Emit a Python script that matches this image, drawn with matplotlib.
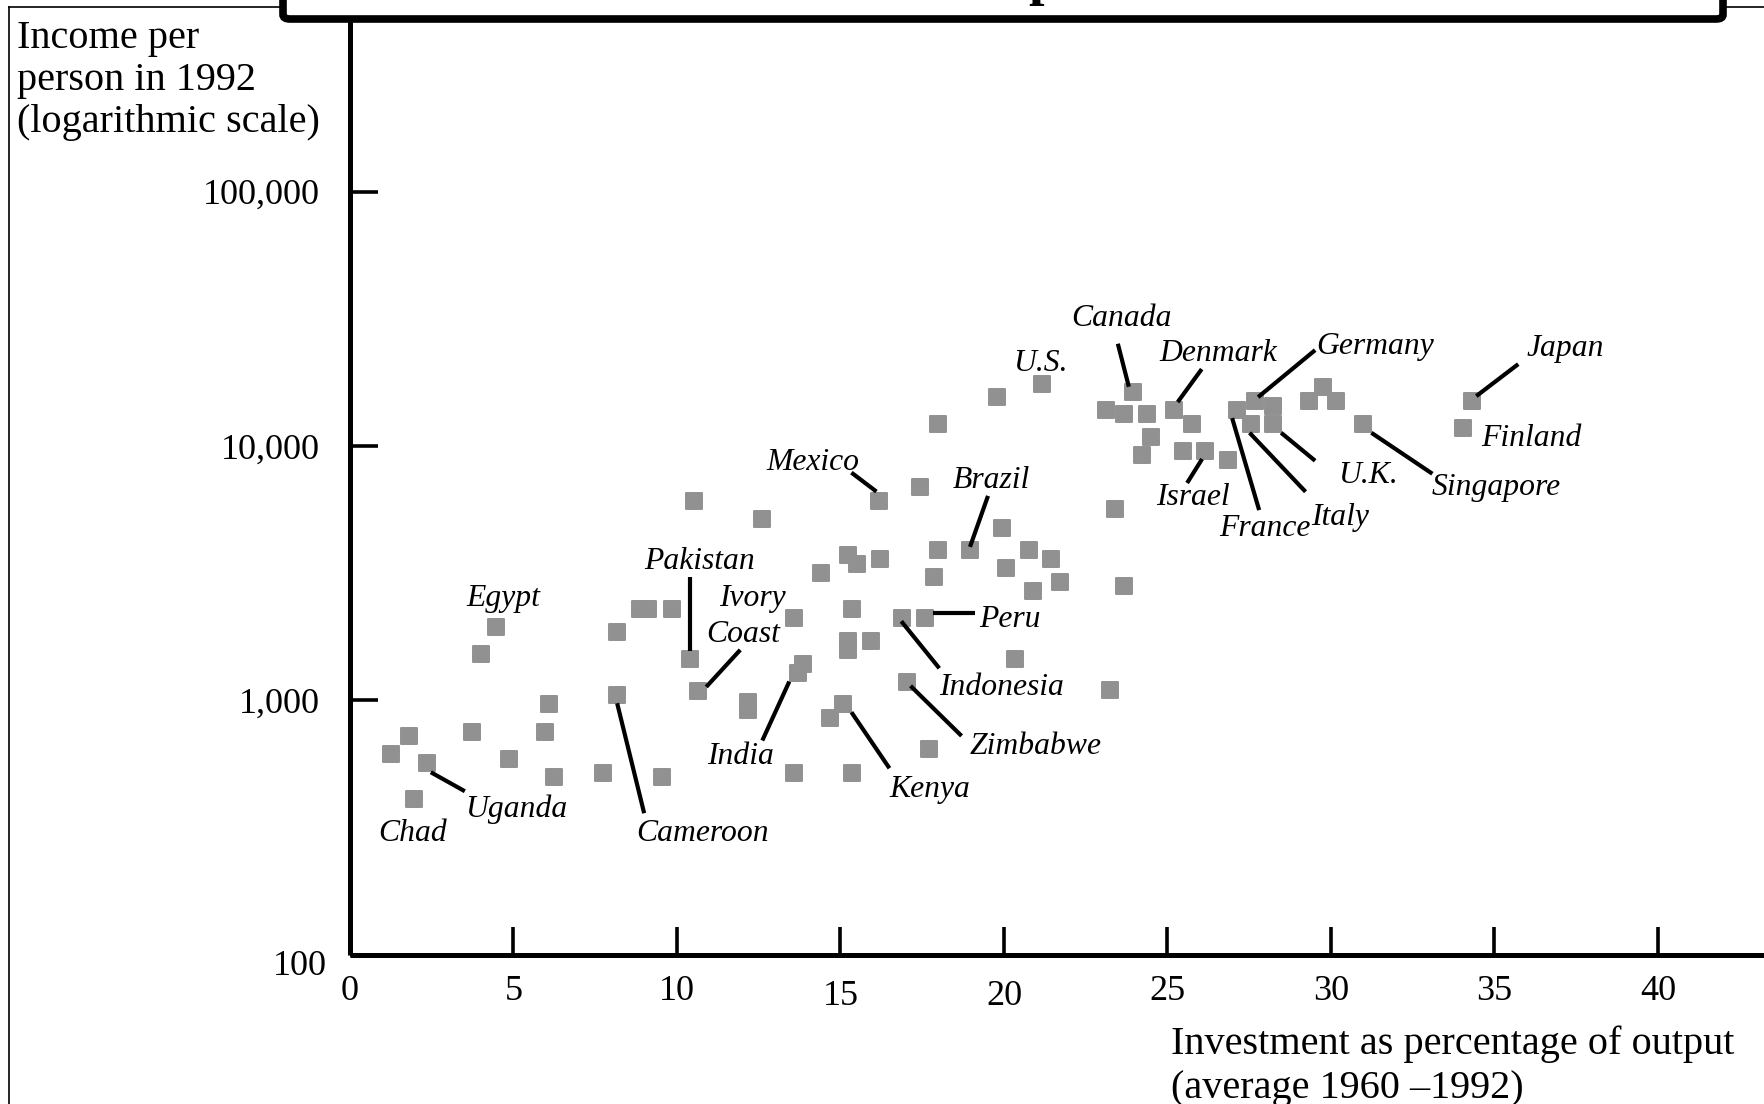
import numpy as np
import matplotlib
matplotlib.use("Agg")
import matplotlib.pyplot as plt
from matplotlib.lines import Line2D
from matplotlib.patches import FancyBboxPatch
from matplotlib.markers import MarkerStyle
from matplotlib.transforms import IdentityTransform, ScaledTranslation

# investment share of output (%, avg 1960-1992) and income per person in 1992
invest = [1.95, 1.25, 1.80, 2.35, 3.74, 4.02, 4.46, 4.85, 5.96, 6.09,
          6.23, 7.75, 8.17, 8.17, 8.87, 9.12, 9.55, 9.84, 10.39, 10.52,
          10.65, 12.18, 12.18, 12.60, 13.57, 13.57, 13.71, 13.84, 14.40, 14.68,
          15.09, 15.22, 15.22, 15.22, 15.36, 15.36, 15.50, 15.92, 16.19, 16.20,
          16.89, 17.02, 17.44, 17.57, 17.71, 17.85, 17.99, 17.99, 18.96, 19.80,
          19.94, 20.07, 20.35, 20.76, 20.90, 21.17, 21.45, 21.72, 23.11, 23.24,
          23.38, 23.66, 23.67, 23.94, 24.21, 24.36, 24.50, 25.19, 25.46, 25.74,
          26.15, 26.85, 27.13, 27.54, 27.68, 28.23, 28.23, 29.33, 29.75, 30.16,
          30.99, 34.05, 34.32]
income = [407, 613, 722, 565, 753, 1514, 1938, 588, 753, 964,
          501, 519, 1046, 1857, 2275, 2275, 501, 2275, 1450, 6095,
          1088, 982, 913, 5180, 2103, 519, 1285, 1393, 3170, 852,
          964, 3725, 1706, 1574, 2275, 519, 3430, 1711, 6095, 3590,
          2100, 1180, 6920, 2100, 640, 3045, 12220, 3900, 3900, 15530,
          4765, 3300, 1455, 3900, 2693, 17540, 3590, 2915, 13830, 1092,
          5637, 13290, 2805, 16330, 9190, 13290, 10820, 13830, 9550, 12220,
          9550, 8810, 13830, 12220, 15000, 14360, 12220, 15000, 16990, 15000,
          12220, 11750, 15000]
country = ["Chad", "", "", "Uganda", "", "", "Egypt", "", "", "",
           "", "", "Cameroon", "", "", "", "", "", "Pakistan", "",
           "Ivory\nCoast", "", "", "", "", "", "India", "", "", "",
           "Kenya", "", "", "", "", "", "", "", "Mexico", "",
           "Indonesia", "Zimbabwe", "", "Peru", "", "", "", "", "Brazil", "",
           "", "", "", "", "", "U.S.", "", "", "", "",
           "", "", "", "Canada", "", "", "", "Denmark", "", "",
           "Israel", "", "France", "Italy", "Germany", "", "U.K.", "", "", "",
           "Singapore", "Finland", "Japan"]

xticks = [0, 5, 10, 15, 20, 25, 30, 35, 40]
yticks = [100, 1000, 10000, 100000]
ytick_labels = ["100", "1,000", "10,000", "100,000"]

# label placement in pixels relative to the marker: text (dx, dy) of the
# left end of the baseline, and an optional leader line (x0, y0, x1, y1)
label_pos = {
    "Chad": ((-36, -42), None),
    "Uganda": ((38, -54), (4, -9, 38, -28)),
    "Egypt": ((-29, 21), None),
    "Cameroon": ((19, -146), (0, -8, 27, -118)),
    "Pakistan": ((-46, 90), (0, 82, 0, 8)),
    "Ivory\nCoast": ((21, 85), (42, 41, 8, 4)),
    "India": ((-91, -91), (-9, -9, -36, -68)),
    "Kenya": ((46, -93), (8, -8, 46, -64)),
    "Mexico": ((-113, 31), (-28, 28, -3, 9)),
    "Brazil": ((-17, 62), (18, 54, 0, 3)),
    "Peru": ((55, -9), (8, 5, 50, 5)),
    "Indonesia": ((37, -77), (-1, -3, 37, -50)),
    "Zimbabwe": ((63, -72), (4, -4, 55, -54)),
    "U.S.": ((-29, 13), None),
    "Canada": ((-62, 66), (-15, 48, -4, 5)),
    "Denmark": ((-14, 49), (28, 41, 4, 8)),
    "Germany": ((61, 47), (60, 51, 3, 4)),
    "Japan": ((54, 45), (46, 37, 4, 5)),
    "Finland": ((18, -18), None),
    "Singapore": ((68, -71), (8, -9, 69, -50)),
    "U.K.": ((65, -59), (8, -9, 42, -37)),
    "Italy": ((61, -101), (-1, -9, 55, -68)),
    "France": ((-18, -126), (-5, -8, 22, -100)),
    "Israel": ((-49, -54), (-3, -8, -18, -32)),
}

W, H = 1765, 1104
serif = ["Liberation Serif", "DejaVu Serif"]
plt.rcParams["font.family"] = serif

fig = plt.figure(figsize=(W / 100, H / 100), dpi=100)
fig.patch.set_facecolor("white")

# axes: origin at (350, 954) px, 32.7 px per percent, 254.3 px per decade
x0_px, y0_px, top_px = 350, 954.5, 20
ax = fig.add_axes([x0_px / W, (H - y0_px) / H, (W - x0_px) / W, (y0_px - top_px) / H])
ax.set_xlim(0, (W - x0_px) / 32.7)
ax.set_yscale("log")
ax.set_ylim(100, 10 ** (2 + (y0_px - top_px) / 254.3))
ax.set_facecolor("none")

for side in ("top", "right"):
    ax.spines[side].set_visible(False)
for side in ("left", "bottom"):
    ax.spines[side].set_linewidth(3.6)
    ax.spines[side].set_capstyle("butt")

ax.set_xticks(xticks)
ax.set_xticklabels([str(t) for t in xticks])
ax.set_yticks(yticks)
ax.set_yticklabels(ytick_labels)
ax.yaxis.set_minor_locator(matplotlib.ticker.NullLocator())
ax.tick_params(axis="x", direction="in", length=20, width=2.6, pad=14.5,
               labelsize=26)
ax.tick_params(axis="y", direction="in", length=20, width=2.6, pad=22,
               labelsize=26)

fig.canvas.draw()
# a few tick labels sit a little off their usual spot
for t in ax.get_xticklabels():
    if t.get_text() in ("15", "20"):
        t.set_transform(t.get_transform() + ScaledTranslation(0, -0.05, fig.dpi_scale_trans))
for t in ax.get_yticklabels():
    if t.get_text() == "100":
        t.set_transform(t.get_transform() + ScaledTranslation(0.07, -0.08, fig.dpi_scale_trans))

marker = MarkerStyle("s", joinstyle="round")
ax.scatter(invest, income, s=(16 * 0.72) ** 2, marker=marker, color="#919191",
           edgecolors="#919191", linewidths=1.4, zorder=3, clip_on=False)

label_font = dict(family=serif, style="italic", fontsize=22.8, color="black")
for xv, yv, name in zip(invest, income, country):
    if not name:
        continue
    (tx, ty), seg = label_pos[name]
    for i, line in enumerate(name.split("\n")):
        dx = tx - 13.5 * i
        ax.annotate(line, xy=(xv, yv), xytext=(dx, ty - 36 * i),
                    textcoords="offset pixels", ha="left", va="baseline",
                    zorder=4, **label_font)
    if seg is not None:
        px, py = ax.transData.transform((xv, yv))
        ax.add_line(Line2D([px + seg[0], px + seg[2]], [py + seg[1], py + seg[3]],
                           transform=IdentityTransform(), color="black",
                           lw=3.0, solid_capstyle="butt", zorder=4))

# axis titles, one text per line
for i, line in enumerate(["Income per", "person in 1992", "(logarithmic scale)"]):
    fig.text(17 / W, 1 - (48 + 42 * i) / H, line, ha="left", va="baseline",
             fontsize=29)
fig.text(1171 / W, 1 - 1054 / H, "Investment as percentage of output",
         ha="left", va="baseline", fontsize=29)
fig.text(1171 / W, 1 - 1098 / H, "(average 1960 \u20131992)",
         ha="left", va="baseline", fontsize=29)

# thin outer frame
fig.add_artist(Line2D([9 / W, 9 / W], [0, 1 - 7 / H], transform=fig.transFigure,
                      color="black", lw=1.2))
fig.add_artist(Line2D([9 / W, 1], [1 - 7 / H, 1 - 7 / H], transform=fig.transFigure,
                      color="black", lw=1.2))

# title panel running off the top edge
box = FancyBboxPatch((283 / W, 1 - 19 / H), (1723 - 283) / W, 0.2,
                     boxstyle="round,pad=0,rounding_size=0.004",
                     transform=fig.transFigure, facecolor="white",
                     edgecolor="black", lw=5.5, zorder=5)
fig.add_artist(box)
fig.text(1028 / W, 1 + 6 / H, "p", ha="left", va="baseline", fontsize=40,
         fontweight="bold", zorder=6)

fig.savefig("out.png", dpi=100)
